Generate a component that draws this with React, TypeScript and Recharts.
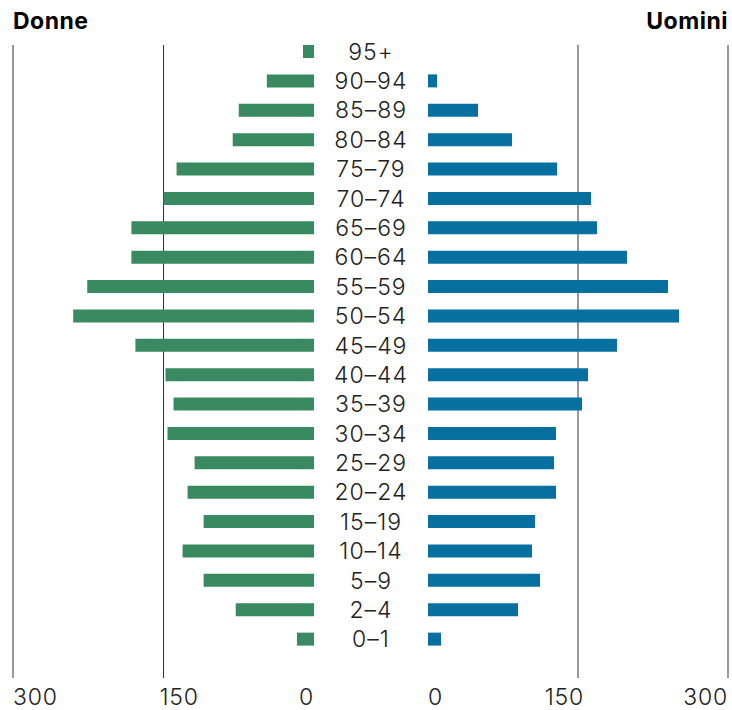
import React from "react";
import { BarChart, Bar, XAxis, YAxis, CartesianGrid } from "recharts";

const ages = [
  "95+", "90–94", "85–89", "80–84", "75–79", "70–74", "65–69",
  "60–64", "55–59", "50–54", "45–49", "40–44", "35–39", "30–34",
  "25–29", "20–24", "15–19", "10–14", "5–9", "2–4", "0–1",
];
const women = [11, 47, 75, 81, 137, 150, 182, 182, 226, 240, 178, 148, 140, 146, 119, 126, 110, 131, 110, 78, 17];
const men = [0, 9, 50, 84, 129, 163, 169, 199, 240, 251, 189, 160, 154, 128, 126, 128, 107, 104, 112, 90, 13];
const xTicks = [0, 150, 300];
const gridTicks = [150, 300];

const data = ages.map((age, i) => ({ age, women: women[i], men: men[i] }));

const FONT = "Inter, 'Noto Sans', sans-serif";
const GREEN = "#398a60";
const BLUE = "#0770a1";
const TEXT = "#222";

const LeftTick = ({ x, y, payload }: any) => {
  const v = payload.value;
  const anchor = v === 0 ? "end" : "start";
  const dx = v === 150 ? -4 : 0;
  return (
    <text x={x + dx} y={y} dy={27} textAnchor={anchor} fontSize={23} fontWeight={300} fill={TEXT} fontFamily={FONT} letterSpacing={0.8}>
      {v}
    </text>
  );
};

const RightTick = ({ x, y, payload }: any) => {
  const v = payload.value;
  const anchor = v === 0 ? "start" : "end";
  const dx = v === 150 ? 6 : 0;
  return (
    <text x={x + dx} y={y} dy={27} textAnchor={anchor} fontSize={23} fontWeight={300} fill={TEXT} fontFamily={FONT} letterSpacing={0.8}>
      {v}
    </text>
  );
};

const AgeTick = ({ x, y, payload }: any) => (
  <text x={x + 57} y={y} dy={8} textAnchor="middle" fontSize={23} fontWeight={300} fill={TEXT} fontFamily={FONT} letterSpacing={1}>
    {payload.value}
  </text>
);

const H = 710;
const TOP = 45;
const XH = 32;
const PAD = { top: -8, bottom: 24 };

export default function App() {
  return (
    <div style={{ position: "absolute", left: 0, top: 0, width: 732, height: H, background: "#fff", fontFamily: FONT }}>
      <div style={{ position: "absolute", left: 13, top: 7, fontSize: 23, fontWeight: 700, color: "#000", letterSpacing: 0.5 }}>Donne</div>
      <div style={{ position: "absolute", right: 4, top: 7, fontSize: 23, fontWeight: 700, color: "#000", letterSpacing: 0.5 }}>Uomini</div>

      <div style={{ position: "absolute", left: 0, top: 0 }}>
        <BarChart width={428} height={H} data={data} layout="vertical" margin={{ top: TOP, right: 0, bottom: 0, left: 13 }} barSize={13}>
          <CartesianGrid xAxisId="main" horizontal={false} verticalValues={gridTicks} stroke="#333" />
          <XAxis xAxisId="main" type="number" domain={[0, 300]} ticks={xTicks} reversed height={XH} axisLine={false} tickLine={false} tickSize={0} tickMargin={0} tick={<LeftTick />} interval={0} />
          <YAxis type="category" dataKey="age" orientation="right" width={114} axisLine={false} tickLine={false} tickSize={0} tickMargin={0} padding={PAD} tick={<AgeTick />} interval={0} />
          <Bar dataKey="women" xAxisId="main" fill={GREEN} isAnimationActive={false} />
        </BarChart>
      </div>

      <div style={{ position: "absolute", left: 428, top: 0 }}>
        <BarChart width={304} height={H} data={data} layout="vertical" margin={{ top: TOP, right: 4, bottom: 0, left: 0 }} barSize={13}>
          <CartesianGrid xAxisId="main" horizontal={false} verticalValues={gridTicks} stroke="#333" />
          <XAxis xAxisId="main" type="number" domain={[0, 300]} ticks={xTicks} height={XH} axisLine={false} tickLine={false} tickSize={0} tickMargin={0} tick={<RightTick />} interval={0} />
          <YAxis type="category" dataKey="age" hide padding={PAD} />
          <Bar dataKey="men" xAxisId="main" fill={BLUE} isAnimationActive={false} />
        </BarChart>
      </div>
    </div>
  );
}
